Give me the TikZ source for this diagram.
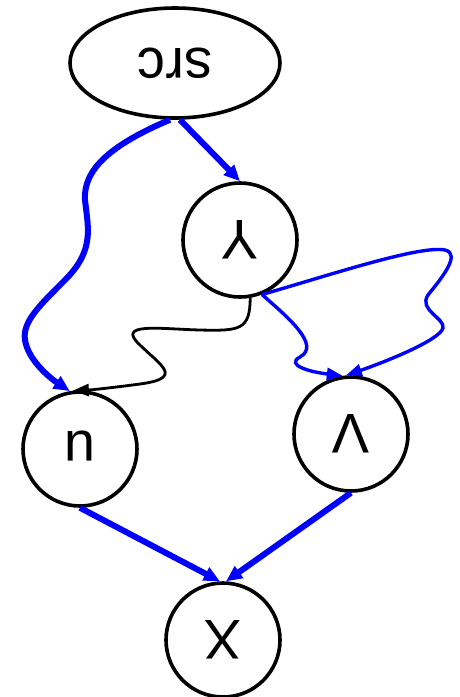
\documentclass[tikz,border=0pt]{standalone}
\usepackage{fontspec}
\setmainfont{Liberation Sans}
\usepackage{graphicx}
\usetikzlibrary{arrows.meta,shapes.geometric}
\newcommand{\flipped}[1]{\rotatebox[origin=c]{180}{#1}}
\tikzset{
  dag-vertex/.style={draw=black, line width=1.8pt, circle, minimum size=57pt, inner sep=0pt,
    font=\fontsize{28}{30}\selectfont},
  dag-source/.style={draw=black, line width=1.8pt, ellipse, minimum width=105pt, minimum height=55pt,
    inner sep=0pt, font=\fontsize{28}{30}\selectfont},
  dag-heavy/.style={draw=blue, line width=3pt, -{Triangle[length=8pt,width=7pt]}},
  dag-light/.style={draw=blue, line width=1.7pt, -{Triangle[length=8pt,width=6pt]}},
  dag-plain/.style={draw=black, line width=1.4pt, -{Triangle[length=8pt,width=6pt]}}
}

\begin{document}
\begin{tikzpicture}[x=0.5pt, y=-0.5pt]
  \useasboundingbox (0,0) rectangle (460,697);

  % Vertices
  \node[dag-source] (src) at (175,63) {\flipped{src}};
  \node[dag-vertex] (y) at (240,240) {\flipped{Y}};
  \node[dag-vertex] (u) at (80,449) {\raisebox{3pt}{\flipped{u}}};
  \node[dag-vertex] (v) at (351,434) {\flipped{V}};
  \node[dag-vertex] (x) at (223,640) {\flipped{X}};

  % Edges out of src
  \draw[dag-heavy] (src.-85) -- (y.north);
  \draw[dag-heavy] (src.-95) .. controls (110,145) and (83,170) .. (85,200)
    .. controls (88,228) and (95,250) .. (65,280)
    .. controls (40,305) and (22,322) .. (25,340)
    .. controls (28,360) and (50,378) .. (u.100);

  % Edges out of Y
  \draw[dag-plain] (y.-80) .. controls (250,330) and (240,331) .. (200,330)
    .. controls (160,329) and (115,322) .. (140,345)
    .. controls (160,365) and (185,378) .. (140,384)
    .. controls (110,388) and (90,390) .. (u.97);
  \draw[dag-light] (y.-68) .. controls (285,315) and (322,345) .. (300,357)
    .. controls (285,365) and (310,372) .. (v.98);
  \draw[dag-light] (y.-68) .. controls (330,275) and (420,245) .. (445,250)
    .. controls (462,254) and (440,280) .. (428,295)
    .. controls (418,310) and (445,318) .. (443,328)
    .. controls (440,340) and (385,362) .. (v.95);

  % Edges into X
  \draw[dag-heavy] (u.south) -- (x.93);
  \draw[dag-heavy] (v.south) -- (x.87);
\end{tikzpicture}
\end{document}
